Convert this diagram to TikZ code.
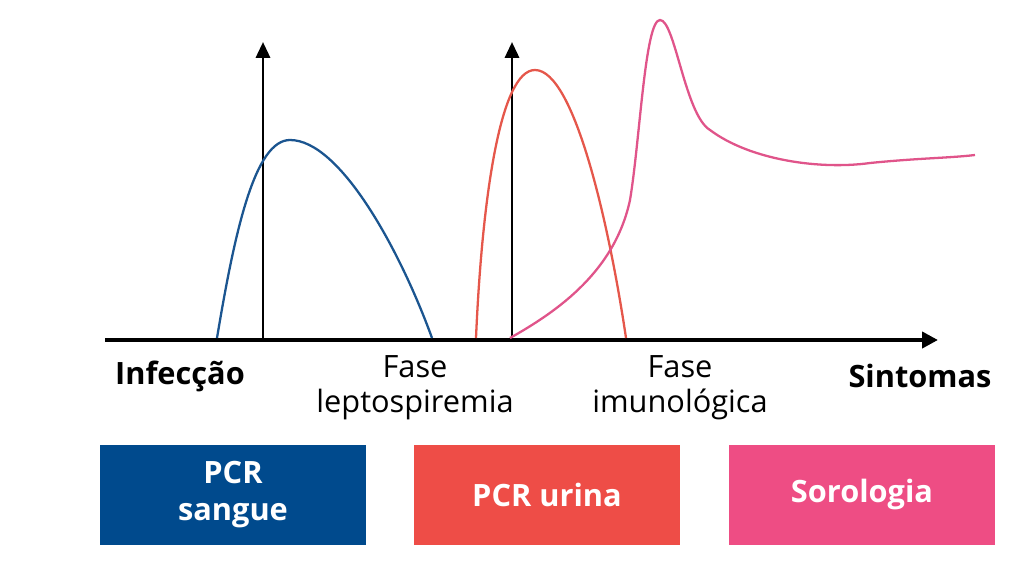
\documentclass[tikz,border=0pt]{standalone}
\usepackage{fontspec}
\setmainfont{Open Sans}
\usetikzlibrary{arrows.meta}
\definecolor{cblue}{HTML}{004A8D}
\definecolor{cred}{HTML}{EE4D47}
\definecolor{cpink}{HTML}{EE4D84}
\definecolor{lblue}{HTML}{1B5590}
\definecolor{lred}{HTML}{E5574B}
\definecolor{lpink}{HTML}{E0548A}
\begin{document}
\begin{tikzpicture}[x=0.02cm,y=-0.02cm,
  axis/.style={line width=2.5pt,-{Triangle[length=9pt,width=9pt]}},
  lab/.style={font=\fontsize{17.5}{20}\selectfont,align=center},
  box/.style={minimum width=5.32cm,minimum height=2cm,inner sep=0pt,text=white,font=\fontsize{17.5}{21}\selectfont\bfseries,align=center}]
\useasboundingbox (0,0) rectangle (1024,568);
\coordinate (a0) at (105,340); \coordinate (a1) at (938,340);
\coordinate (v1b) at (263,340); \coordinate (v1t) at (263,42);
\coordinate (v2b) at (512,340); \coordinate (v2t) at (512,42);
\draw[axis] (a0) -- (a1);
\draw[line width=1.6pt,-{Triangle[length=9pt,width=8pt]}] (v1b) -- (v1t);
\draw[line width=1.6pt,-{Triangle[length=9pt,width=8pt]}] (v2b) -- (v2t);
\draw[lblue,line width=1.3pt] (217,338) .. controls (235,230) and (255,140) .. (290,140)
  .. controls (340,140) and (400,250) .. (432,338);
\draw[lred,line width=1.3pt] (476,338) .. controls (482,200) and (500,70) .. (535,70)
  .. controls (575,70) and (610,230) .. (626,338);
\draw[lpink,line width=1.3pt] (510,338) .. controls (560,310) and (615,270) .. (630,200)
  .. controls (640,140) and (645,20) .. (660,20)
  .. controls (675,20) and (685,115) .. (710,130)
  .. controls (750,160) and (820,170) .. (870,163)
  .. controls (920,158) and (950,158) .. (975,155);
\node[lab,font=\fontsize{17.5}{20}\selectfont\bfseries] (inf) at (180,376) {Infecção};
\node[lab] (fl) at (415,388) {Fase\\leptospiremia};
\node[lab] (fi) at (680,388) {Fase\\imunológica};
\node[lab,font=\fontsize{17.5}{20}\selectfont\bfseries] (sin) at (920,376) {Sintomas};
\node[box,fill=cblue] (b1) at (233,495) {PCR\\sangue};
\node[box,fill=cred] (b2) at (547,495) {PCR urina};
\node[box,fill=cpink] (b3) at (862,495) {Sorologia};
\end{tikzpicture}
\end{document}
